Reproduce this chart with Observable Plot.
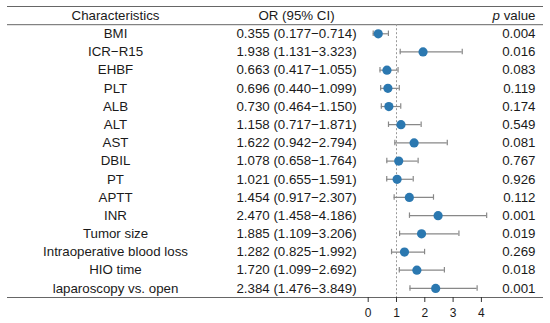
<!DOCTYPE html>
<html>
<head>
<meta charset="utf-8">
<script src="https://cdn.jsdelivr.net/npm/d3@7"></script>
<script src="https://cdn.jsdelivr.net/npm/@observablehq/plot@0.6"></script>
<style>
  html, body { margin: 0; padding: 0; background: #fff; }
  #chart svg { display: block; }
</style>
</head>
<body>
<div id="chart"></div>
<script>
const names = ["BMI", "ICR−R15", "EHBF", "PLT", "ALB", "ALT", "AST", "DBIL", "PT", "APTT", "INR", "Tumor size", "Intraoperative blood loss", "HIO time", "laparoscopy vs. open"];
const oddsRatio = [0.355, 1.938, 0.663, 0.696, 0.730, 1.158, 1.622, 1.078, 1.021, 1.454, 2.470, 1.885, 1.282, 1.720, 2.384];
const ciLow = [0.177, 1.131, 0.417, 0.440, 0.464, 0.717, 0.942, 0.658, 0.655, 0.917, 1.458, 1.109, 0.825, 1.099, 1.476];
const ciHigh = [0.714, 3.323, 1.055, 1.099, 1.150, 1.871, 2.794, 1.764, 1.591, 2.307, 4.186, 3.206, 1.992, 2.692, 3.849];
const pValues = ["0.004", "0.016", "0.083", "0.119", "0.174", "0.549", "0.081", "0.767", "0.926", "0.112", "0.001", "0.019", "0.269", "0.018", "0.001"];
const headers = ["Characteristics", "OR (95% CI)", "p value"];
const xTicks = [0, 1, 2, 3, 4];

const fmt = v => v.toFixed(3);
const rows = names.map((name, i) => ({
  name, i,
  or: oddsRatio[i], lo: ciLow[i], hi: ciHigh[i], p: pValues[i],
  ci: `${fmt(oddsRatio[i])} (${fmt(ciLow[i])}−${fmt(ciHigh[i])})`
}));
const head = [{i: -1, a: headers[0], b: headers[1], c: headers[2]}];

const W = 550, H = 323;
const mL = 7, mR = 7;
const x0 = 367.7, pxPerUnit = 28.3;
const xDomain = [(mL - x0) / pxPerUnit, (W - mR - x0) / pxPerUnit];

const lineColor = "#666";
const textColor = "#1a1a1a";

const chart = Plot.plot({
  width: W,
  height: H,
  marginLeft: mL,
  marginRight: mR,
  marginTop: 6,
  marginBottom: 26,
  style: {fontFamily: "'Liberation Sans', Arial, sans-serif", fontSize: "13.3px", color: textColor, background: "#fff"},
  x: {domain: xDomain, axis: null},
  y: {domain: [-1.5, 14.5], reverse: true, axis: null},
  marks: [
    Plot.ruleY([-1.5, -0.5, 14.5], {stroke: lineColor, strokeWidth: 1}),
    Plot.ruleX([1], {y1: -0.5, y2: 14.5, stroke: "#999", strokeDasharray: "2,2"}),
    Plot.ruleY(rows, {y: "i", x1: "lo", x2: "hi", stroke: "#888", strokeWidth: 1.2}),
    Plot.ruleX(rows, {x: "lo", y1: d => d.i - 0.15, y2: d => d.i + 0.15, stroke: "#888", strokeWidth: 1.2}),
    Plot.ruleX(rows, {x: "hi", y1: d => d.i - 0.15, y2: d => d.i + 0.15, stroke: "#888", strokeWidth: 1.2}),
    Plot.dot(rows, {x: "or", y: "i", r: 4.6, fill: "#2B78B0", stroke: "none"}),
    Plot.text(head, {y: "i", text: "a", frameAnchor: "left", dx: 108, textAnchor: "middle", fill: textColor}),
    Plot.text(head, {y: "i", text: "b", frameAnchor: "left", dx: 289, textAnchor: "middle", fill: textColor}),
    Plot.text(head, {y: "i", text: "c", frameAnchor: "right", dx: -8, textAnchor: "end", fill: textColor}),
    Plot.text(rows, {y: "i", text: "name", frameAnchor: "left", dx: 108, textAnchor: "middle", fill: textColor}),
    Plot.text(rows, {y: "i", text: "ci", frameAnchor: "left", dx: 289, textAnchor: "middle", fill: textColor}),
    Plot.text(rows, {y: "i", text: "p", frameAnchor: "right", dx: -8, textAnchor: "end", fill: textColor}),
    Plot.axisX({ticks: xTicks, tickSize: 5, tickPadding: 6, fontSize: 12, stroke: "#333", fill: textColor})
  ]
});

d3.select(chart).selectAll("text").filter(function () { return this.textContent === headers[2]; })
  .each(function () {
    const t = d3.select(this);
    t.text(null);
    t.append("tspan").attr("font-style", "italic").text("p");
    t.append("tspan").text(" value");
  });

document.getElementById("chart").appendChild(chart);
</script>
</body>
</html>
